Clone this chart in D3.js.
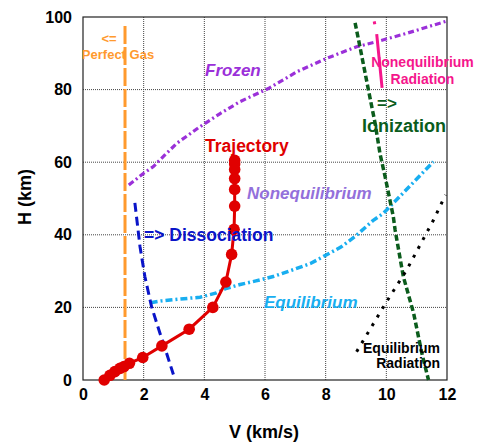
<!DOCTYPE html>
<html>
<head>
<meta charset="utf-8">
<script src="https://cdn.jsdelivr.net/npm/d3@7"></script>
<style>
  body { margin: 0; background: #fff; }
  svg { display: block; font-family: "Liberation Sans", Arial, sans-serif; }
</style>
</head>
<body>
<svg id="chart" width="481" height="448"></svg>
<script>
// ---- data ----
const xTicks = [0, 2, 4, 6, 8, 10, 12];
const yTicks = [0, 20, 40, 60, 80, 100];

const trajectoryV = [0.70, 0.89, 1.05, 1.22, 1.35, 1.53, 1.97, 2.60, 3.50, 4.28, 4.71, 4.90, 4.98, 5.00, 5.00, 5.00, 5.00, 5.00, 5.00];
const trajectoryH = [0.0, 1.3, 2.3, 3.2, 3.7, 4.6, 6.2, 9.4, 14.0, 20.0, 27.0, 34.6, 41.5, 47.9, 52.5, 55.5, 58.0, 59.5, 60.5];

const frozenV = [1.51, 1.99, 2.32, 2.70, 3.09, 3.86, 4.52, 5.18, 6.11, 7.05, 8.03, 9.02, 9.68, 10.67, 12.0];
const frozenH = [53.7, 56.9, 58.8, 62.0, 65.2, 69.8, 73.4, 76.7, 80.3, 84.9, 88.6, 91.8, 93.2, 95.5, 98.9];

const equilibriumV = [2.23, 2.60, 3.20, 3.86, 4.40, 4.71, 5.18, 5.70, 6.27, 6.90, 7.50, 7.92, 8.50, 9.02, 9.57, 9.90, 10.60, 11.20, 11.55];
const equilibriumH = [21.3, 21.8, 22.3, 22.8, 24.0, 25.2, 26.3, 27.3, 28.5, 30.3, 32.1, 34.0, 36.6, 39.9, 44.0, 45.9, 51.9, 57.1, 60.1];

const dissociationV = [1.71, 1.88, 2.04, 2.26, 2.54, 2.75, 2.98];
const dissociationH = [48.8, 36.7, 28.5, 20.2, 12.8, 7.5, 1.5];

const ionizationV = [8.97, 9.13, 9.41, 9.63, 9.79, 9.96, 10.23, 10.29, 10.56, 10.90, 11.17, 11.39];
const ionizationH = [98.4, 91.8, 79.9, 70.7, 62.4, 56.0, 45.0, 41.3, 28.5, 18.4, 7.4, 0.0];

const eqRadiationV = [9.02, 10.01, 10.67, 11.55, 11.95];
const eqRadiationH = [7.8, 21.6, 30.3, 44.0, 51.0];

const noneqRadiationV = [9.60, 9.68, 9.86];
const noneqRadiationH = [98.8, 95.5, 80.5];

const perfectGasV = [1.385, 1.385];
const perfectGasH = [0, 98];

// ---- chart ----
const svg = d3.select("#chart");
const x = d3.scaleLinear().domain([0, 12]).range([83, 447]);
const y = d3.scaleLinear().domain([0, 100]).range([380, 17]);

const zip = (a, b) => a.map((v, i) => [v, b[i]]);
const line = d3.line().x(d => x(d[0])).y(d => y(d[1]));

// grid
const grid = svg.append("g");
grid.selectAll("line.vx").data(xTicks.filter(t => t > 0 && t < 12)).join("line")
  .attr("x1", d => x(d)).attr("x2", d => x(d))
  .attr("y1", y(0)).attr("y2", y(100))
  .attr("stroke", "#444").attr("stroke-width", 1).attr("stroke-dasharray", "1,1");
grid.selectAll("line.hy").data(yTicks.filter(t => t > 0 && t < 100)).join("line")
  .attr("x1", x(0)).attr("x2", x(12))
  .attr("y1", d => y(d)).attr("y2", d => y(d))
  .attr("stroke", "#444").attr("stroke-width", 1).attr("stroke-dasharray", "1,1");

// frame
svg.append("rect").attr("x", x(0)).attr("y", y(100))
  .attr("width", x(12) - x(0)).attr("height", y(0) - y(100))
  .attr("fill", "none").attr("stroke", "#222").attr("stroke-width", 1.2);

// axes
const xAxis = svg.append("g").attr("transform", `translate(0,${y(0)})`)
  .call(d3.axisBottom(x).tickValues(xTicks).tickSize(0).tickPadding(9));
const yAxis = svg.append("g").attr("transform", `translate(${x(0)},0)`)
  .call(d3.axisLeft(y).tickValues(yTicks).tickSize(0).tickPadding(11));
[xAxis, yAxis].forEach(a => {
  a.select(".domain").remove();
  a.selectAll("text").attr("font-size", 16).attr("font-weight", "bold")
    .attr("fill", "#000").attr("font-family", "Liberation Sans, Arial, sans-serif");
});

svg.append("text").attr("x", 264).attr("y", 438).attr("text-anchor", "middle")
  .attr("font-size", 18).attr("font-weight", "bold").text("V (km/s)");
svg.append("text").attr("transform", "translate(31,197) rotate(-90)").attr("text-anchor", "middle")
  .attr("font-size", 18).attr("font-weight", "bold").text("H (km)");

// curves
const plot = svg.append("g");
function curve(V, H, color, width, dash) {
  plot.append("path").datum(zip(V, H)).attr("d", line)
    .attr("fill", "none").attr("stroke", color).attr("stroke-width", width)
    .attr("stroke-dasharray", dash);
}
curve(perfectGasV, perfectGasH, "#ff9a2e", 3, "18,3");
curve(frozenV, frozenH, "#9b30d9", 3.2, "6,3,2,3");
curve(equilibriumV, equilibriumH, "#18aef0", 3.5, "7,3,2,3");
curve(dissociationV, dissociationH, "#0a14c8", 3, "9,5");
curve(ionizationV, ionizationH, "#0b5c1c", 3.5, "6,3");
curve(eqRadiationV, eqRadiationH, "#000", 3, "3,7");
curve(noneqRadiationV, noneqRadiationH, "#f5168c", 3, "3,10,80");

// trajectory
const traj = zip(trajectoryV, trajectoryH);
plot.append("path").datum(traj).attr("d", line)
  .attr("fill", "none").attr("stroke", "#e00000").attr("stroke-width", 3);
plot.selectAll("circle.traj").data(traj).join("circle")
  .attr("cx", d => x(d[0])).attr("cy", d => y(d[1])).attr("r", 5.8)
  .attr("fill", "#e00000");

// labels
function label(txt, px, py, color, size, opts = {}) {
  svg.append("text").attr("x", px).attr("y", py).text(txt)
    .attr("fill", color).attr("font-size", size)
    .attr("font-weight", opts.weight || "bold")
    .attr("font-style", opts.italic ? "italic" : "normal")
    .attr("text-anchor", opts.anchor || "start");
}
label("<=", 109, 43, "#ff9a2e", 13, { anchor: "middle" });
label("Perfect Gas", 118, 59, "#ff9a2e", 13, { anchor: "middle" });
label("Frozen", 205, 76, "#9b30d9", 17, { italic: true });
label("Trajectory", 205, 152, "#e00000", 17.5);
label("Nonequilibrium", 247, 199, "#9370db", 17, { italic: true });
label("=> Dissociation", 144, 241, "#0a14c8", 17.5);
label("Equilibrium", 264, 308, "#18aef0", 17, { italic: true });
label("=>", 377, 109, "#0b5c1c", 17);
label("Ionization", 362, 132, "#0b5c1c", 18);
label("Nonequilibrium", 422.5, 67, "#f5168c", 14, { anchor: "middle" });
label("Radiation", 422.5, 84, "#f5168c", 14, { anchor: "middle" });
label("Equilibrium", 440, 353, "#000", 14, { anchor: "end" });
label("Radiation", 440, 368, "#000", 14, { anchor: "end" });
</script>
</body>
</html>
